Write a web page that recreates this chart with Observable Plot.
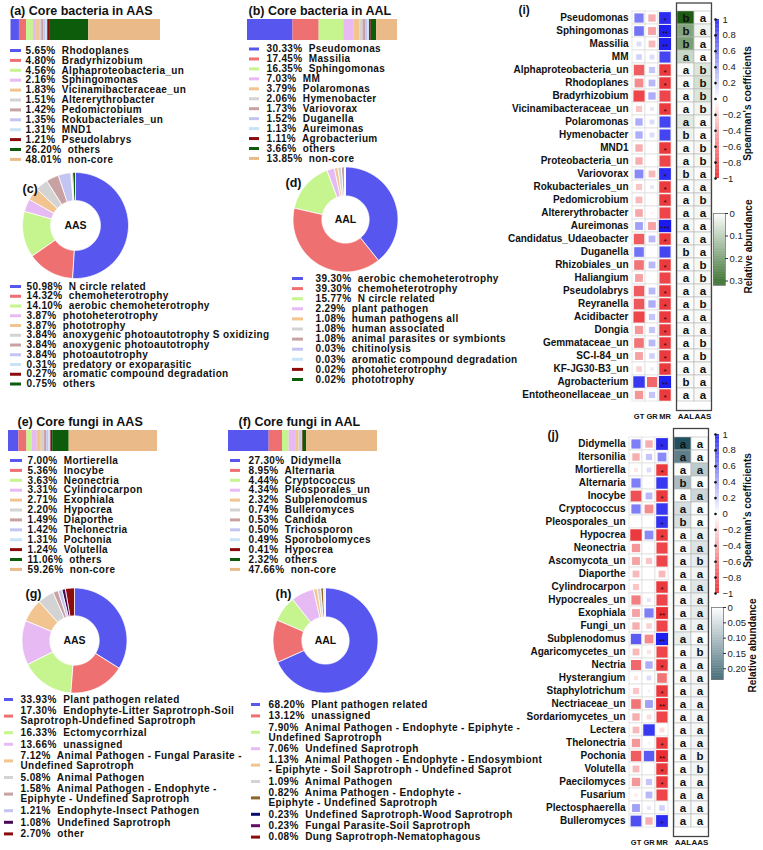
<!DOCTYPE html>
<html><head><meta charset="utf-8">
<script src="https://cdn.jsdelivr.net/npm/d3@7"></script>
<script src="https://cdn.jsdelivr.net/npm/@observablehq/plot@0.6"></script>
<style>
body{margin:0;background:#fff;}
#fig{position:relative;width:763px;height:850px;overflow:hidden;background:#fff;}
#fig svg{position:absolute;left:0;top:0;}
</style></head><body><div id="fig"></div>
<script>
// ================= DATA =================
const coreColors = ["#5757f0","#ef7070","#c6f48e","#e8baf4","#f2c48f","#d3d3d3","#c8a2a2","#c4c4f2","#c8e2f6","#8c0c0c","#0c5c0c","#eabb88"];
const gColors = ["#5757f0","#ef7070","#c6f48e","#e8baf4","#f2c48f","#d3d3d3","#c8a2a2","#c4c4f2","#4a0a57","#8c0c0c"];
const hColors = ["#5757f0","#ef7070","#c6f48e","#e8baf4","#f2c48f","#d3d3d3","#8f6428","#0c0c6c","#650c65","#8c0c0c"];

// (a) core bacteria in AAS
const aNames = ["Rhodoplanes","Bradyrhizobium","Alphaproteobacteria_un","Sphingomonas","Vicinamibacteraceae_un","Altererythrobacter","Pedomicrobium","Rokubacteriales_un","MND1","Pseudolabrys","others","non-core"];
const aPct = [5.65,4.80,4.56,2.16,1.83,1.51,1.42,1.35,1.31,1.21,26.20,48.01];
// (b) core bacteria in AAL
const bNames = ["Pseudomonas","Massilia","Sphingomonas","MM","Polaromonas","Hymenobacter","Variovorax","Duganella","Aureimonas","Agrobacterium","others","non-core"];
const bPct = [30.33,17.45,16.35,7.03,3.79,2.06,1.73,1.52,1.13,1.11,3.66,13.85];
// (c) bacterial functions AAS
const cNames = ["N circle related","chemoheterotrophy","aerobic chemoheterotrophy","photoheterotrophy","phototrophy","anoxygenic photoautotrophy S oxidizing","anoxygenic photoautotrophy","photoautotrophy","predatory or exoparasitic","aromatic compound degradation","others"];
const cPct = [50.98,14.32,14.10,3.87,3.87,3.84,3.84,3.84,0.31,0.27,0.75];
// (d) bacterial functions AAL
const dNames = ["aerobic chemoheterotrophy","chemoheterotrophy","N circle related","plant pathogen","human pathogens all","human associated","animal parasites or symbionts","chitinolysis","aromatic compound degradation","photoheterotrophy","phototrophy"];
const dPct = [39.30,39.30,15.77,2.29,1.08,1.08,1.08,0.03,0.03,0.02,0.02];
// (e) core fungi in AAS
const eNames = ["Mortierella","Inocybe","Neonectria","Cylindrocarpon","Exophiala","Hypocrea","Diaporthe","Thelonectria","Pochonia","Volutella","others","non-core"];
const ePct = [7.00,5.36,3.63,3.31,2.71,2.20,1.49,1.42,1.31,1.24,11.06,59.26];
// (f) core fungi in AAL
const fNames = ["Didymella","Alternaria","Cryptococcus","Pleosporales_un","Subplenodomus","Bulleromyces","Candida","Trichosporon","Sporobolomyces","Hypocrea","others","non-core"];
const fPct = [27.30,8.95,4.44,4.34,2.32,0.74,0.53,0.50,0.49,0.41,2.32,47.66];
// (g) fungal guilds AAS
const gNames = ["Plant pathogen related","Endophyte-Litter Saprotroph-Soil\nSaprotroph-Undefined Saprotroph","Ectomycorrhizal","unassigned","Animal Pathogen - Fungal Parasite -\nUndefined Saprotroph","Animal Pathogen","Animal Pathogen - Endophyte -\nEpiphyte - Undefined Saprotroph","Endophyte-Insect Pathogen","Undefined Saprotroph","other"];
const gPct = [33.93,17.30,16.33,13.66,7.12,5.08,1.58,1.21,1.08,2.70];
// (h) fungal guilds AAL
const hNames = ["Plant pathogen related","unassigned","Animal Pathogen - Endophyte - Epiphyte -\nUndefined Saprotroph","Undefined Saprotroph","Animal Pathogen - Endophyte - Endosymbiont\n- Epiphyte - Soil Saprotroph - Undefined Saprot","Animal Pathogen","Anima Pathogen - Endophyte -\nEpiphyte - Undefined Saprotroph","Undefined Saprotroph-Wood Saprotroph","Fungal Parasite-Soil Saprotroph","Dung Saprotroph-Nematophagous"];
const hPct = [68.20,13.12,7.90,7.06,1.13,1.09,0.82,0.23,0.23,0.08];

// (i) bacteria heatmap
const iRows = ["Pseudomonas","Sphingomonas","Massilia","MM","Alphaproteobacteria_un","Rhodoplanes","Bradyrhizobium","Vicinamibacteraceae_un","Polaromonas","Hymenobacter","MND1","Proteobacteria_un","Variovorax","Rokubacteriales_un","Pedomicrobium","Altererythrobacter","Aureimonas","Candidatus_Udaeobacter","Duganella","Rhizobiales_un","Haliangium","Pseudolabrys","Reyranella","Acidibacter","Dongia","Gemmataceae_un","SC-I-84_un","KF-JG30-B3_un","Agrobacterium","Entotheonellaceae_un"];
const iGT = [0.55,0.6,0.15,0.2,-0.7,-0.5,-0.8,-0.25,0.35,0.35,-0.35,-0.35,0.5,-0.25,-0.3,-0.38,0.4,-0.7,0.6,-0.6,-0.4,-0.7,-0.72,-0.8,-0.45,-0.6,-0.4,-0.2,0.85,-0.45];
const iGR = [-0.35,-0.4,-0.3,0.15,0.25,0.3,0.35,0.1,0.15,0.15,0.02,0.02,-0.3,0.1,0.03,-0.05,-0.4,0.3,0.02,0.3,0.02,0.3,0.35,0.25,0.25,0.3,0.2,0.08,-0.65,0.25];
const iMR = [0.9,0.95,0.95,0.8,-0.85,-0.85,-0.8,-0.85,0.8,0.8,-0.85,-0.8,0.9,-0.85,-0.85,-0.8,0.98,-0.85,0.8,-0.85,-0.8,-0.85,-0.85,-0.85,-0.85,-0.85,-0.85,-0.85,0.95,-0.85];
const iSig = ["*","**","**","","*","*","","*","","","*","","*","*","*","","***","*","","*","","*","*","*","*","*","*","*","**","*"];
const iLetAAL = ["b","b","b","a","a","a","a","a","a","b","a","a","b","a","a","a","a","a","b","a","a","a","a","a","a","a","a","a","b","a"];
const iLetAAS = ["a","a","a","a","b","b","b","b","a","a","b","b","a","a","b","a","a","a","a","b","b","a","b","a","a","b","b","a","a","a"];
const iAbAAL = [0.3033,0.1635,0.1745,0.0703,0.008,0.008,0.008,0.005,0.0379,0.0206,0.004,0.006,0.0173,0.005,0.005,0.008,0.0113,0.005,0.0152,0.006,0.005,0.005,0.005,0.005,0.005,0.004,0.004,0.004,0.0111,0.004];
const iAbAAS = [0.002,0.0216,0.003,0.002,0.0456,0.0565,0.048,0.0183,0.01,0.004,0.0131,0.012,0.005,0.0135,0.0142,0.0151,0.004,0.011,0.003,0.011,0.01,0.0121,0.01,0.01,0.009,0.009,0.01,0.009,0.004,0.009];

// (j) fungi heatmap
const jRows = ["Didymella","Itersonilia","Mortierella","Alternaria","Inocybe","Cryptococcus","Pleosporales_un","Hypocrea","Neonectria","Ascomycota_un","Diaporthe","Cylindrocarpon","Hypocreales_un","Exophiala","Fungi_un","Subplenodomus","Agaricomycetes_un","Nectria","Hysterangium","Staphylotrichum","Nectriaceae_un","Sordariomycetes_un","Lectera","Thelonectria","Pochonia","Volutella","Paecilomyces","Fusarium","Plectosphaerella","Bulleromyces"];
const jGT = [0.55,-0.35,-0.1,0.55,-0.75,0.55,0.03,-0.85,-0.45,-0.4,-0.3,-0.25,-0.55,-0.4,-0.35,0.7,-0.3,-0.65,-0.12,-0.25,-0.6,-0.35,-0.3,-0.45,-0.7,-0.3,-0.45,-0.08,0.4,0.75];
const jGR = [-0.35,0.25,0.15,0.03,0.3,-0.5,0.01,0.5,0.03,-0.25,0.0,0.03,0.1,0.55,-0.2,-0.5,-0.12,0.35,0.15,0.06,0.4,-0.15,0.85,0.05,0.7,0.01,0.25,0.3,0.1,-0.35];
const jMR = [0.9,0.5,-0.85,0.85,-0.85,0.85,0.88,-0.85,-0.8,-0.8,-0.3,-0.85,-0.8,-0.9,-0.8,0.95,-0.8,-0.85,-0.6,-0.85,-0.9,-0.8,-0.15,-0.85,-0.9,-0.85,-0.85,-0.8,0.2,0.9];
const jSig = ["*","","*","","*","","*","*","","","","*","","**","","**","","*","","*","**","","","*","**","*","*","","","*"];
const jLetAAL = ["a","a","a","b","a","a","b","a","a","a","a","a","a","a","a","a","a","a","a","a","a","a","a","a","a","a","a","a","a","a"];
const jLetAAS = ["a","a","a","a","a","a","a","a","a","b","a","a","a","a","a","a","b","a","a","a","a","a","a","a","b","b","a","a","a","a"];
const jAbAAL = [0.273,0.17,0.004,0.0895,0.003,0.0444,0.0434,0.0041,0.006,0.012,0.004,0.004,0.008,0.006,0.01,0.0232,0.004,0.005,0.005,0.004,0.006,0.006,0.005,0.004,0.003,0.003,0.004,0.006,0.006,0.0074];
const jAbAAS = [0.003,0.004,0.07,0.004,0.0536,0.005,0.004,0.022,0.0363,0.025,0.0149,0.0331,0.02,0.0271,0.02,0.004,0.015,0.012,0.012,0.012,0.012,0.012,0.01,0.0142,0.0131,0.0124,0.01,0.01,0.008,0.003];

// colour-bar tick labels
const spearmanTicks = [1,0.8,0.6,0.4,0.2,0,-0.2,-0.4,-0.6,-0.8,-1];
const iAbTicks = [0,0.1,0.2,0.3];
const jAbTicks = [0,0.05,0.10,0.15,0.20];

// ================= LAYOUT =================
const W = 763, H = 850;
const FONT = "'Liberation Sans', Arial, Helvetica, sans-serif";
const fig = document.getElementById("fig");
const spearColor = {type:"linear", domain:[-1,0,1], range:["#e8171c","#ffffff","#1515ee"]};
const greenColor = {type:"linear", domain:[0,0.3], range:["#ffffff","#1d5c12"], clamp:true};
const tealColor = {type:"linear", domain:[0,0.235], range:["#ffffff","#22505e"], clamp:true};

function framePlot(x0, y0, x1, y1, opts, extraStyle = {}) {
  const p = Plot.plot({
    width: W, height: H,
    marginLeft: x0, marginRight: W - x1, marginTop: y0, marginBottom: H - y1,
    style: {background: "transparent", overflow: "visible", fontFamily: FONT, color: "#111", ...extraStyle},
    ...opts
  });
  fig.appendChild(p);
  return p;
}
function pagePlot(marks, extraStyle) {
  return framePlot(0, 0, W, H, {x:{type:"identity", axis:null}, y:{type:"identity", axis:null}, color:{type:"identity"}, marks}, extraStyle);
}

function stackBar(names, pct, colors, B) {
  const rows = names.map((n, i) => ({name: n, pct: pct[i]}));
  framePlot(B.x0, B.y0, B.x1, B.y1, {
    x: {domain: [0, 100], axis: null},
    color: {domain: names, range: colors},
    marks: [Plot.barX(rows, {x: "pct", fill: "name"})]
  });
}

function legend(names, pct, colors, L) {
  const entries = [], lines = [];
  let y = L.y0;
  names.forEach((n, i) => {
    const parts = n.split("\n");
    const ys = parts.map((_, k) => y + k * (L.inner || 0));
    parts.forEach((p, k) => lines.push({text: k === 0 ? `${pct[i].toFixed(2)}%\u00a0 ${p}` : p, y: ys[k]}));
    entries.push({color: colors[i], y: d3.mean(ys)});
    y = ys[ys.length - 1] + L.adv;
  });
  pagePlot([
    Plot.ruleY(entries, {y: "y", x1: L.sw0, x2: L.sw1, stroke: "color", strokeWidth: 3}),
    Plot.text(lines, {x: L.tx, y: "y", text: "text", textAnchor: "start", fontSize: L.size || 10, fontWeight: "bold", fill: "#111"})
  ], {letterSpacing: (L.ls ?? 0.35) + "px"});
}

function donut(names, pct, colors, D, label) {
  const pie = d3.pie().sort(null).value(d => d)(pct);
  const rows = [];
  pie.forEach((p, i) => {
    const n = Math.max(2, Math.ceil((p.endAngle - p.startAngle) / 0.02));
    const ang = d3.range(n + 1).map(k => p.startAngle + (p.endAngle - p.startAngle) * k / n);
    ang.forEach(a => rows.push({name: names[i], x: Math.sin(a), y: Math.cos(a)}));
    ang.slice().reverse().forEach(a => rows.push({name: names[i], x: D.inner * Math.sin(a), y: D.inner * Math.cos(a)}));
  });
  framePlot(D.cx - D.r, D.cy - D.r, D.cx + D.r, D.cy + D.r, {
    x: {domain: [-1, 1], axis: null}, y: {domain: [-1, 1], axis: null},
    color: {domain: names, range: colors},
    marks: [
      Plot.line(rows, {x: "x", y: "y", z: "name", fill: "name", stroke: "white", strokeWidth: 0.8, curve: "linear-closed"}),
      Plot.text([label], {x: 0, y: 0, text: d => d, fontSize: 10.5, fontWeight: "bold", fill: "#111"})
    ]
  });
}

function heatmap(rows, gt, gr, mr, sig, B) {
  const cols = ["GT", "GR", "MR"];
  const cells = [];
  rows.forEach((r, i) => [gt, gr, mr].forEach((arr, j) => cells.push({row: r, col: cols[j], v: arr[i], sig: j === 2 ? sig[i] : ""})));
  framePlot(B.x0, B.y0, B.x1, B.y1, {
    x: {domain: cols, padding: 0, axis: null},
    y: {domain: rows, padding: 0, axis: null},
    color: spearColor,
    r: {type: "sqrt", domain: [0, 1], range: [0, B.rmax]},
    marks: [
      Plot.cell(cells, {x: "col", y: "row", fill: "white", stroke: "#dcdcdc", strokeWidth: 0.7}),
      Plot.dot(cells, {x: "col", y: "row", symbol: "square", r: d => Math.abs(d.v), fill: "v"}),
      Plot.text(cells.filter(d => d.sig), {x: "col", y: "row", text: "sig", fontSize: 8, fill: "#2a0a0a", dy: 2}),
      Plot.axisY({ticks: rows, label: null, tickSize: 0, tickPadding: 3, fontSize: 10, fontWeight: "bold", fill: "#111"}),
      Plot.axisX({label: null, tickSize: 0, tickPadding: 3, fontSize: 7.5, fontWeight: "bold", fill: "#111"})
    ]
  });
}

function letterTable(rows, lAAL, lAAS, abAAL, abAAS, B, colorOpts) {
  const cols = ["AAL", "AAS"];
  const cells = rows.flatMap((r, i) => [{row: r, col: "AAL", ab: abAAL[i], l: lAAL[i]}, {row: r, col: "AAS", ab: abAAS[i], l: lAAS[i]}]);
  framePlot(B.x0, B.y0, B.x1, B.y1, {
    x: {domain: cols, padding: 0, axis: null},
    y: {domain: rows, padding: 0, axis: null},
    color: colorOpts,
    marks: [
      Plot.cell(cells, {x: "col", y: "row", fill: "ab", stroke: "#b5b5b5", strokeWidth: 0.6}),
      Plot.text(cells, {x: "col", y: "row", text: "l", fontSize: 11.5, fontWeight: "bold", fill: "#111"}),
      Plot.frame({stroke: "#444", strokeWidth: 1.3}),
      Plot.axisX({label: null, tickSize: 0, tickPadding: 3, fontSize: 8, fontWeight: "bold", fill: "#111"})
    ]
  });
}

function spearBar(B) {
  const step = 0.01;
  const ramp = d3.range(-1, 1, step);
  framePlot(B.x0, B.y0, B.x1, B.y1, {
    x: {domain: [0, 1], axis: null}, y: {domain: [-1, 1], axis: null},
    color: spearColor,
    marks: [
      Plot.rect(ramp, {x1: 0, x2: 1, y1: d => d, y2: d => d + step * 1.05, fill: d => d + step / 2}),
      Plot.dot(spearmanTicks, {x: 0, y: d => d, r: 1.3, fill: "#111"}),
      Plot.text(spearmanTicks, {x: 1, y: d => d, dx: 3, text: d => d < 0 ? "\u2212" + Math.abs(d) : String(d), textAnchor: "start", fontSize: 9.5, fill: "#222"})
    ]
  });
}

function abundanceBar(B, colorOpts, ticks, fmt) {
  const step = (B.max) / 100;
  const ramp = d3.range(0, B.max, step);
  framePlot(B.x0, B.y0, B.x1, B.y1, {
    x: {domain: [0, 1], axis: null}, y: {domain: [0, B.max], reverse: true, axis: null},
    color: colorOpts,
    marks: [
      Plot.rect(ramp, {x1: 0, x2: 1, y1: d => d, y2: d => d + step * 1.05, fill: d => d + step / 2}),
      Plot.frame({stroke: "#777", strokeWidth: 0.8}),
      Plot.ruleY(ticks, {y: d => d, x1: 1, x2: 1.25, stroke: "#333"}),
      Plot.text(ticks, {x: 1, y: d => d, dx: 4, text: fmt, textAnchor: "start", fontSize: 9.5, fill: "#222"})
    ]
  });
}

// ---------- panels ----------
stackBar(aNames, aPct, coreColors, {x0: 10.5, y0: 19, x1: 160, y1: 40});
stackBar(bNames, bPct, coreColors, {x0: 247, y0: 19, x1: 397, y1: 40});
stackBar(eNames, ePct, coreColors, {x0: 8, y0: 430, x1: 157, y1: 451});
stackBar(fNames, fPct, coreColors, {x0: 228, y0: 430, x1: 377, y1: 451});

legend(aNames, aPct, coreColors, {sw0: 10, sw1: 21, tx: 25, y0: 50, adv: 9.9});
legend(bNames, bPct, coreColors, {sw0: 249, sw1: 259, tx: 266, y0: 48.5, adv: 9.95});
legend(cNames, cPct, coreColors, {sw0: 10, sw1: 21, tx: 26, y0: 286, adv: 9.75});
legend(dNames, dPct, coreColors, {sw0: 292, sw1: 303, tx: 315, y0: 278, adv: 10.1});
legend(eNames, ePct, coreColors, {sw0: 10, sw1: 22, tx: 27, y0: 460, adv: 9.9});
legend(fNames, fPct, coreColors, {sw0: 230, sw1: 240, tx: 248, y0: 460, adv: 9.9});
legend(gNames, gPct, gColors, {sw0: 4, sw1: 13, tx: 20, y0: 699, adv: 11.6, inner: 10, ls: 0.4});
legend(hNames, hPct, hColors, {sw0: 251, sw1: 260, tx: 268, y0: 704, adv: 11.4, inner: 10, ls: 0.4});

donut(cNames, cPct, coreColors, {cx: 75, cy: 225, r: 53, inner: 0.47}, "AAS");
donut(dNames, dPct, coreColors, {cx: 345, cy: 219, r: 52.5, inner: 0.45}, "AAL");
donut(gNames, gPct, gColors, {cx: 74, cy: 640, r: 52.5, inner: 0.47}, "AAS");
donut(hNames, hPct, hColors, {cx: 325, cy: 640, r: 52.5, inner: 0.45}, "AAL");

heatmap(iRows, iGT, iGR, iMR, iSig, {x0: 631, y0: 2.5, x1: 672, y1: 410, rmax: 7});
letterTable(iRows, iLetAAL, iLetAAS, iAbAAL, iAbAAS, {x0: 676, y0: 2.5, x1: 711, y1: 410}, greenColor);
spearBar({x0: 715, y0: 19, x1: 719, y1: 178});
abundanceBar({x0: 713, y0: 213, x1: 725, y1: 285, max: 0.32}, greenColor, iAbTicks, d => String(d));

heatmap(jRows, jGT, jGR, jMR, jSig, {x0: 628, y0: 428, x1: 669, y1: 836, rmax: 7});
letterTable(jRows, jLetAAL, jLetAAS, jAbAAL, jAbAAS, {x0: 673, y0: 428, x1: 708, y1: 836}, tealColor);
spearBar({x0: 715, y0: 434, x1: 719, y1: 593});
abundanceBar({x0: 711, y0: 607, x1: 723, y1: 679, max: 0.235}, tealColor, jAbTicks, d => d === 0 ? "0" : d.toFixed(2));

// ---------- titles ----------
const titles = [
  {t: "(a) Core bacteria in AAS", x: 9.5, y: 10.5, s: 12.5},
  {t: "(b) Core bacteria in AAL", x: 248, y: 10.5, s: 12.5},
  {t: "(c)", x: 22, y: 188, s: 12.5},
  {t: "(d)", x: 285, y: 182, s: 12.5},
  {t: "(e) Core fungi in AAS", x: 17, y: 421, s: 12.5},
  {t: "(f) Core fungi in AAL", x: 238, y: 421, s: 12.5},
  {t: "(g)", x: 25, y: 593, s: 12.5},
  {t: "(h)", x: 275, y: 593, s: 12.5},
  {t: "(i)", x: 518, y: 9.5, s: 12},
  {t: "(j)", x: 547, y: 435, s: 12}
];
const barTitles = [
  {t: "Spearman's coefficients", x: 747, y: 103},
  {t: "Relative abundance", x: 748, y: 246},
  {t: "Spearman's coefficients", x: 747, y: 510},
  {t: "Relative abundance", x: 752, y: 645}
];
pagePlot([
  Plot.text(titles, {x: "x", y: "y", text: "t", fontSize: "s", textAnchor: "start", fontWeight: "bold", fill: "#111"}),
  Plot.text(barTitles, {x: "x", y: "y", text: "t", rotate: -90, fontSize: 10, textAnchor: "middle", fontWeight: "bold", fill: "#111"})
]);
</script></body></html>
